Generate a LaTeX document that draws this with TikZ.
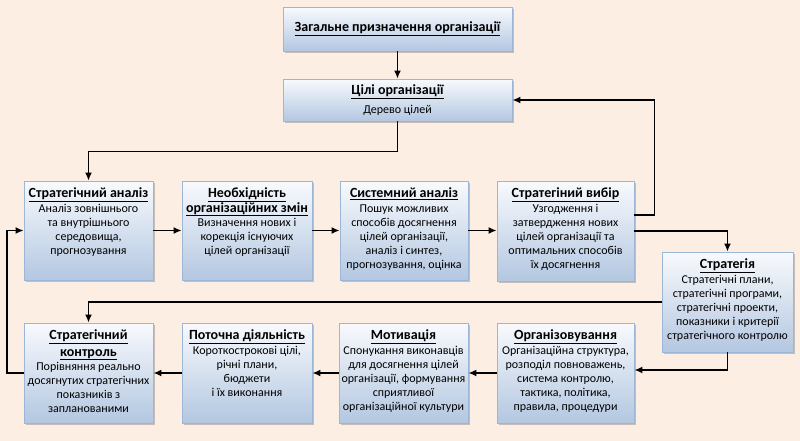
\documentclass[tikz,border=0pt]{standalone}
\usepackage{fontspec}
\setmainfont{Carlito}
\usetikzlibrary{shadows,arrows.meta}
\definecolor{bgl}{HTML}{FDEEE4}
\definecolor{bgo}{HTML}{F8C29C}
\definecolor{boxtop}{HTML}{F8FAFD}
\definecolor{boxbot}{HTML}{B3C7E1}
\definecolor{boxline}{HTML}{9CB6D8}
\newcommand\ttl[1]{{\fontsize{14}{14.2}\selectfont\textbf{\underline{#1}}}}
\newcommand\tbox[3]{\parbox[c][#2][t]{#1}{\centering\vspace*{7pt}#3\par}}
\begin{document}
\begin{tikzpicture}[x=1pt,y=-1pt,
  box/.style={draw=boxline, line width=0.8pt, top color=boxtop, bottom color=boxbot,
    inner sep=0pt, font=\fontsize{12}{14.2}\selectfont,
    drop shadow={shadow xshift=2pt, shadow yshift=-2pt, opacity=0.3, fill=black!70}},
  arr/.style={line width=1.8pt, -{Latex[length=8pt,width=7pt]}, line join=miter}]
\useasboundingbox (0,0) rectangle (800,440);
\begin{scope}
\clip (0,0) rectangle (800,440);
\shade[rotate around={-61.2:(400,220)}, left color=bgl, middle color=bgo, right color=bgl] (-20,-280) rectangle (820,720);
\end{scope}

\node[box, minimum width=229pt, minimum height=44pt] (top) at (397.5,29) {\ttl{Загальне призначення організації}};
\node[box, minimum width=229pt, minimum height=42pt, align=center] (goals) at (397.5,100) {\ttl{Цілі організації}\\[4pt]Дерево цілей};

\node[box] (sa) at (88.5,230.5) {\tbox{129pt}{99pt}{\ttl{Стратегічний аналіз}\\Аналіз зовнішнього\\та внутрішнього\\середовища,\\прогнозування}};
\node[box] (nz) at (247,230.5) {\tbox{130pt}{99pt}{\ttl{Необхідність}\\\ttl{організаційних змін}\\Визначення нових і\\корекція існуючих\\цілей організації}};
\node[box] (sys) at (404,230.5) {\tbox{128pt}{99pt}{\ttl{Системний аналіз}\\Пошук можливих\\способів досягнення\\цілей організації,\\аналіз і синтез,\\прогнозування, оцінка}};
\node[box] (vyb) at (565.5,231) {\tbox{137pt}{100pt}{\ttl{Стратегіний вибір}\\Узгодження і\\затвердження нових\\цілей організації та\\оптимальних способів\\їх досягнення}};
\node[box] (strat) at (727.5,302) {\tbox{131pt}{100pt}{\ttl{Стратегія}\\Стратегічні плани,\\стратегічні програми,\\стратегічні проекти,\\показники і критерії\\стратегічного контролю}};

\node[box] (ctrl) at (88.5,373) {\tbox{129pt}{100pt}{\ttl{Стратегічний}\\[2pt]\ttl{контроль}\\Порівняння реально\\досягнутих стратегічних\\показників з\\запланованими}};
\node[box] (pot) at (247,373) {\tbox{130pt}{100pt}{\ttl{Поточна діяльність}\\Короткострокові цілі,\\річні плани,\\бюджети\\і їх виконання}};
\node[box] (mot) at (403.5,373) {\tbox{129pt}{100pt}{\ttl{Мотивація}\\Спонукання виконавців\\для досягнення цілей\\організації, формування\\сприятливої\\організаційної культури}};
\node[box] (org) at (565.5,373) {\tbox{137pt}{100pt}{\ttl{Організовування}\\Організаційна структура,\\розподіл повноважень,\\система контролю,\\тактика, політика,\\правила, процедури}};

\draw[arr] (top.south) -- (goals.north);
\draw[arr] (goals.south) -- ++(0,30) -| (sa.north);
\draw[arr] (sa.east) -- (sa.east -| nz.west);
\draw[arr] (nz.east) -- (nz.east -| sys.west);
\draw[arr] (sys.east) -- (sys.east -| vyb.west);
\draw[arr] ([yshift=16pt]vyb.east) -- ++(20,0) |- (goals.east);
\draw[arr] (vyb.east) -| (strat.north);
\draw[arr] (strat.south) |- ([yshift=3pt]org.east);
\draw[arr] (strat.west) -| (ctrl.north);
\draw[arr] (org.west) -- (org.west -| mot.east);
\draw[arr] (mot.west) -- (mot.west -| pot.east);
\draw[arr] (pot.west) -- (pot.west -| ctrl.east);
\draw[arr] (ctrl.west) -- ++(-17,0) |- (sa.west);
\end{tikzpicture}
\end{document}
